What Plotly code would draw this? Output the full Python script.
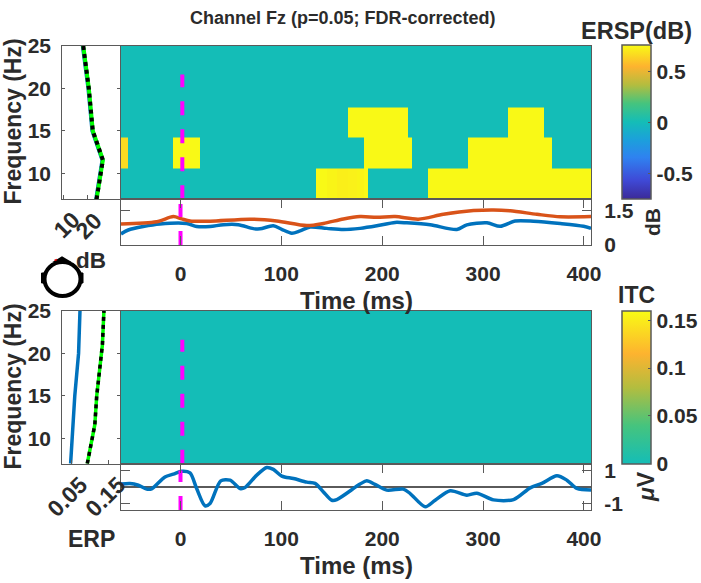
import plotly.graph_objects as go

W, H = 701, 583
TXT = "#2b2b2b"
AX = "#5a5a5a"
FONT = "Liberation Sans"

# ---------- data ----------
time_edges = [-59, -51.8, -7.7, 19.6, 134.7, 145, 155, 165, 166.5, 175, 182, 186,
              225.7, 229.7, 245.5, 285, 325, 360.7, 368.5, 407]
freq_edges = [7, 10.6, 14.2, 17.8, 21.4, 25]
Y = 0.75
ersp_r1 = [0, 0, 0, 0, Y, .735, .72, .72, .725, .735, Y, 0, 0, 0, Y, Y, Y, Y, Y]
ersp_r2 = [.66, 0, Y, 0, 0, 0, 0, 0, 0, 0, Y, Y, Y, 0, 0, Y, Y, Y, 0]
ersp_r3 = [0, 0, 0, 0, 0, 0, 0, 0, Y, Y, Y, Y, 0, 0, 0, 0, Y, 0, 0]
ersp_r4 = [0] * 19
ersp_r5 = [0] * 19
itc_rows = [[0] * 19 for _ in range(5)]

marg_freq = [7, 11.6, 15, 20, 25]
ersp_marg_blue = [23.8, 26.5, 22.2, 20.5, 18.1]
ersp_marg_sig = [24.0, 26.7, 22.4, 20.7, 18.3]

itc_marg_freq = [7, 10, 11.6, 15, 20, 21, 25]
itc_marg_blue = [.049, .0526, .054, .060, .070, .0705, .0737]
itc_marg_sig = [.093, .106, .113, .118, .132, .133, .137]

t_orange = [-59, -23.6, -7.1, 1.2, 9.4, 29.3, 68.9, 95.4, 125.2, 141.7, 161.5, 178, 194.6,
            212.8, 235.9, 260.7, 290.5, 310.3, 326.9, 353.4, 376.5, 407]
v_orange = [.91, 1.01, 1.23, 1.13, 1.04, 1.03, 1.12, 1.04, .84, .93, 1.13, 1.23, 1.20,
            1.23, 1.12, 1.33, 1.49, 1.52, 1.48, 1.33, 1.22, 1.23]
t_blue = [-59, -51.8, -37, -20.3, 6.1, 16, 29.3, 42.5, 57.3, 72.2, 78.9, 92, 100.3, 110.3,
          118.5, 128.5, 145, 161.5, 178, 194.6, 212.8, 224.4, 247.5, 274, 283.9, 303.8,
          317, 331.8, 350, 376.5, 399.6, 407]
v_blue = [.48, .65, .80, .91, .93, .80, .80, .88, .88, .71, .70, .83, .68, .51,
          .61, .78, .72, .67, .72, .83, .98, .96, .88, .67, .87, .96,
          .81, 1.04, 1.03, .93, .81, .72]
t_erp = [-59, -50.1, -41.8, -33.6, -28.6, -15.4, -7.1, 1.2, 9.4, 16, 24.3, 29.3, 39.9, 49.1,
         59, 64, 75.6, 85.5, 92.1, 100.4, 112, 125.2, 133.4, 141.7, 150, 155, 178, 184.7,
         192.9, 204.5, 221, 227.7, 242.6, 252.5, 267.4, 283.9, 293.8, 310.3, 330.2, 346.7,
         358.3, 373.2, 383.1, 393, 407]
v_erp = [.17, .21, .10, -.14, -.12, .61, .78, .96, .86, -.10, -1.16, -1.02, .37, .41,
         -.10, -.04, .72, 1.19, 1.07, .66, .51, .29, .21, -.31, -.82, -.78, .17, .37,
         .15, -.20, -.14, -.41, -1.22, -.82, -.24, -.51, -.39, -.80, -.78, -.06,
         .21, .68, .41, -.10, -.20]

freq_ticks = [10, 15, 20, 25]
time_ticks = [0, 100, 200, 300, 400]
ersp_cbar_ticks = [-0.5, 0, 0.5]
itc_cbar_ticks = [0, 0.05, 0.1, 0.15]
ersp_marg_ticks = [10, 20]
itc_marg_ticks = [0.05, 0.15]

BG_TEAL = "#14bdb7"
parula_full = [[0, "#3b2a98"], [.12, "#3f49d6"], [.27, "#2f82f0"], [.38, "#1c9fdc"], [.5, BG_TEAL],
               [.62, "#45c47e"], [.74, "#b3bd3f"], [.86, "#fdb32f"], [1, "#f9fb15"]]
itc_scale = [[0, BG_TEAL], [.25, "#45c47e"], [.5, "#b3bd3f"], [.72, "#fdb32f"], [1, "#f9fb15"]]


# ---------- layout helpers ----------
def xd(a, b):
    return [a / W, b / W]


def yd(top, bot):
    return [1 - bot / H, 1 - top / H]


def tick_font():
    return dict(family=FONT, size=21, color=TXT, weight="bold")


def base_axis(**kw):
    d = dict(showgrid=False, zeroline=False, showline=True, linecolor=AX, linewidth=1.2,
             mirror=True, tickcolor=AX, tickwidth=1, tickfont=tick_font(), layer="above traces")
    d.update(kw)
    return d


ML, MR = 62.3, 119.8     # marginal
IL, IR = 121, 591        # image

fig = go.Figure()

# --- ERSP image
fig.add_trace(go.Heatmap(x=time_edges, y=freq_edges, z=[ersp_r1, ersp_r2, ersp_r3, ersp_r4, ersp_r5],
                         zmin=-.755, zmax=.755, colorscale=parula_full, xaxis="x", yaxis="y",
                         colorbar=dict(x=621.7 / W, xanchor="left", xpad=0, ypad=0, thickness=29,
                                       thicknessmode="pixels", lenmode="pixels", len=153.8,
                                       y=1 - 199.3 / H, yanchor="bottom", tickvals=ersp_cbar_ticks,
                                       ticktext=["-0.5", "0", "0.5"], ticks="inside", ticklen=3, tickcolor=AX,
                                       outlinecolor=AX, outlinewidth=1.5, tickfont=tick_font())))
# --- ITC image
fig.add_trace(go.Heatmap(x=time_edges, y=freq_edges, z=itc_rows, zmin=0, zmax=.16, colorscale=itc_scale,
                         xaxis="x4", yaxis="y4",
                         colorbar=dict(x=621.7 / W, xanchor="left", xpad=0, ypad=0, thickness=29,
                                       thicknessmode="pixels", lenmode="pixels", len=152.7,
                                       y=1 - 463.7 / H, yanchor="bottom", tickvals=itc_cbar_ticks,
                                       ticktext=["0", "0.05", "0.1", "0.15"], ticks="inside", ticklen=3, tickcolor=AX,
                                       outlinecolor=AX, outlinewidth=1.5, tickfont=tick_font())))

BLUE = "#0072bd"
ORANGE = "#d95319"
MAG = "#ff00ff"
DASH = "14px,14px"


def line(x, y, xa, ya, color, width=3.5, shape="spline", dash=None, smooth=0.8):
    ln = dict(color=color, width=width, shape=shape, dash=dash)
    if shape == "spline":
        ln["smoothing"] = smooth
    fig.add_trace(go.Scatter(x=x, y=y, xaxis=xa, yaxis=ya, mode="lines", line=ln, hoverinfo="skip", showlegend=False))


# dashed onset markers
line([1.8, 1.8], [7, 21.6], "x", "y", MAG, 4, "linear", DASH)
line([1.8, 1.8], [7, 21.6], "x4", "y4", MAG, 4, "linear", DASH)
# top series
line(t_blue, v_blue, "x2", "y2", BLUE)
line(t_orange, v_orange, "x2", "y2", ORANGE)
line([0, 0], [0, 1.78], "x2", "y2", MAG, 4, "linear", DASH)
# bottom series
line(t_erp, v_erp, "x5", "y5", BLUE)
line([0, 0], [-1.42, 1.0], "x5", "y5", MAG, 4, "linear", DASH)
# marginals
line(ersp_marg_blue, marg_freq, "x3", "y3", BLUE, 4, "linear")
line(ersp_marg_sig, marg_freq, "x3", "y3", "#00ff00", 4, "linear")
line(ersp_marg_sig, marg_freq, "x3", "y3", "#000000", 4, "linear", "4px,4px")
line(itc_marg_blue, itc_marg_freq, "x6", "y6", BLUE, 3.5, "linear")
line(itc_marg_sig, itc_marg_freq, "x6", "y6", "#00ff00", 3.5, "linear")
line(itc_marg_sig, itc_marg_freq, "x6", "y6", "#000000", 3.5, "linear", "4px,4px")

TR = [-59, 407]
layout = dict(
    width=W, height=H, autosize=False, margin=dict(l=0, r=0, t=0, b=0, pad=0, autoexpand=False),
    paper_bgcolor="white", plot_bgcolor="white", showlegend=False,
    xaxis=base_axis(domain=xd(IL, IR), range=TR, showticklabels=False, ticks=""),
    yaxis=base_axis(domain=yd(45.5, 199.3), range=[7, 25], showticklabels=False, ticks=""),
    xaxis2=base_axis(domain=xd(IL, IR), range=TR, anchor="y2", tickvals=time_ticks, ticks="inside", ticklen=9,
                     mirror="allticks", ticklabelstandoff=10),
    yaxis2=base_axis(domain=yd(199.3, 245), range=[0, 1.98], anchor="x2", side="right", tickvals=[0, 1.5],
                     ticktext=["0", "1.5"], ticks="inside", ticklen=9, mirror="allticks", ticklabelstandoff=8),
    xaxis3=base_axis(domain=xd(ML, MR), range=[9.4, 33.9], anchor="y3", tickvals=ersp_marg_ticks, ticks="inside",
                     ticklen=4, showticklabels=False),
    yaxis3=base_axis(domain=yd(45.5, 199.3), range=[7, 25], anchor="x3", tickvals=freq_ticks, ticks="inside",
                     ticklen=3, mirror="allticks", ticklabelstandoff=6),
    xaxis4=base_axis(domain=xd(IL, IR), range=TR, anchor="y4", showticklabels=False, ticks=""),
    yaxis4=base_axis(domain=yd(311, 463.7), range=[7, 25], anchor="x4", showticklabels=False, ticks=""),
    xaxis5=base_axis(domain=xd(IL, IR), range=TR, anchor="y5", tickvals=time_ticks, ticks="inside", ticklen=9,
                     mirror="allticks", ticklabelstandoff=10),
    yaxis5=base_axis(domain=yd(463.7, 510), range=[-1.42, 1.42], anchor="x5", side="right", tickvals=[-1, 1],
                     ticktext=["-1", "1"], ticks="inside", ticklen=9, mirror="allticks", ticklabelstandoff=8,
                     zeroline=True, zerolinecolor=AX, zerolinewidth=1.5),
    xaxis6=base_axis(domain=xd(ML, MR), range=[.027, .179], anchor="y6", tickvals=itc_marg_ticks, ticks="inside",
                     ticklen=4, showticklabels=False),
    yaxis6=base_axis(domain=yd(311, 463.7), range=[7, 25], anchor="x6", tickvals=freq_ticks, ticks="inside",
                     ticklen=3, mirror="allticks", ticklabelstandoff=6),
)
fig.update_layout(**layout)


def label(text, x, y, size, angle=0):
    fig.add_annotation(text=f"<b>{text}</b>", x=x / W, y=1 - y / H, xref="paper", yref="paper", showarrow=False,
                       xanchor="center", yanchor="middle", textangle=angle, align="center",
                       font=dict(family=FONT, size=size, color=TXT))


label("Channel Fz (p=0.05; FDR-corrected)", 343, 18, 18)
label("ERSP(dB)", 636, 31, 23.5)
label("ITC", 636, 295, 23)
label("Frequency (Hz)", 12.5, 122, 23, -90)
label("Frequency (Hz)", 12.5, 387, 23, -90)
label("Time (ms)", 356, 300, 24)
label("Time (ms)", 356, 565, 24)
label("ERP", 91, 539, 23)
label("dB", 91.5, 261, 22.5)
label("dB", 652, 222, 21, -90)
label("<i>μ</i>V", 646, 487, 23, -90)
# rotated marginal tick labels
label("10", 66.5, 225, 23, -45)
label("20", 88.5, 226, 23, -45)
label("0.05", 67, 497, 23, -45)
label("0.15", 105, 497, 23, -45)


def px(x):
    return x / W


def py(y):
    return 1 - y / H


# scalp map: head outline, nose, ears, electrode mark
fig.add_shape(type="circle", xref="paper", yref="paper", x0=px(44.5), x1=px(80.5), y0=py(262), y1=py(296),
              line=dict(color="black", width=4), fillcolor="white")
fig.add_shape(type="path", xref="paper", yref="paper", line=dict(color="black", width=2), fillcolor="black",
              path=f"M {px(56)} {py(261)} L {px(62)} {py(257.5)} L {px(68)} {py(261)} Z")
fig.add_shape(type="rect", xref="paper", yref="paper", x0=px(41.5), x1=px(44), y0=py(283), y1=py(273),
              line=dict(color="black", width=1), fillcolor="black")
fig.add_shape(type="rect", xref="paper", yref="paper", x0=px(81), x1=px(83), y0=py(283), y1=py(273),
              line=dict(color="black", width=1), fillcolor="black")
fig.add_shape(type="line", xref="paper", yref="paper", x0=px(54.5), x1=px(57), y0=py(260.5), y1=py(259.5),
              line=dict(color="#e00000", width=1.5))

fig.write_html("out.html", config=dict(displayModeBar=False), post_script="document.body.style.margin='0';")
